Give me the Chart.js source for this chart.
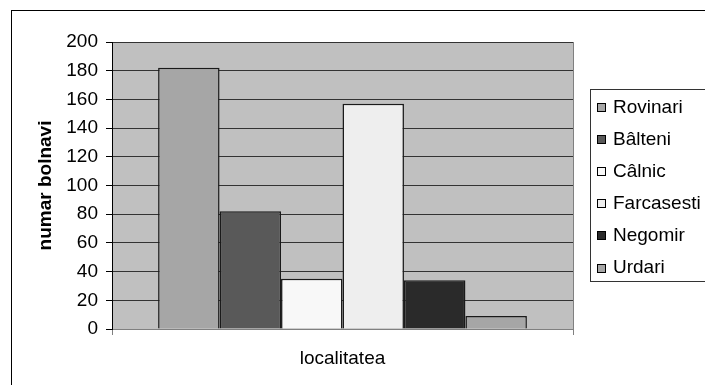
<!DOCTYPE html>
<html>
<head>
<meta charset="utf-8">
<title>numar bolnavi</title>
<script src="https://cdn.jsdelivr.net/npm/chart.js@4.4.1/dist/chart.umd.min.js"></script>
<style>
 html, body { margin: 0; padding: 0; background: #fff; overflow: hidden; }
 #wrap { position: absolute; left: 0; top: 0; width: 730px; height: 400px; }
</style>
</head>
<body>
<div id="wrap"><canvas id="myChart" width="730" height="400"></canvas></div>
<script>
// localitati si numar bolnavi
var categoryLabels = [''];
var seriesNames = ['Rovinari', 'Bâlteni', 'Câlnic', 'Farcasesti', 'Negomir', 'Urdari'];
var seriesValues = [182, 82, 35, 157, 34, 9];
var seriesColors = ['#a6a6a6', '#595959', '#f8f8f8', '#eeeeee', '#2a2a2a', '#a6a6a6'];
var yMin = 0, yMax = 200, yStep = 20;

var FONT = '"Liberation Sans", Arial, sans-serif';

var datasets = [];
for (var i = 0; i < seriesNames.length; i++) {
  datasets.push({
    label: seriesNames[i],
    data: [seriesValues[i]],
    backgroundColor: seriesColors[i],
    borderColor: '#1a1a1a',
    borderWidth: 1.5,
    barPercentage: 1,
    categoryPercentage: 0.8
  });
}

// fundal gri + chenar exterior + legenda
var excelLook = {
  id: 'excelLook',
  beforeDraw: function (chart) {
    var ctx = chart.ctx, a = chart.chartArea;
    ctx.save();
    ctx.fillStyle = '#c0c0c0';
    ctx.fillRect(a.left, a.top, a.right - a.left, a.bottom - a.top);
    ctx.restore();
  },
  afterDraw: function (chart) {
    var ctx = chart.ctx, a = chart.chartArea;
    ctx.save();
    // marginea din dreapta a zonei de desen
    ctx.strokeStyle = '#808080';
    ctx.lineWidth = 1;
    ctx.beginPath();
    ctx.moveTo(Math.round(a.right) + 0.5, a.top);
    ctx.lineTo(Math.round(a.right) + 0.5, a.bottom);
    ctx.stroke();

    // chenarul graficului
    ctx.strokeStyle = '#000';
    ctx.strokeRect(11.5, 10.5, 800, 500);

    // legenda
    var lx = 590.5, ly = 89.5, lh = 192;
    ctx.fillStyle = '#fff';
    ctx.fillRect(lx, ly, 200, lh);
    ctx.strokeStyle = '#333';
    ctx.strokeRect(lx, ly, 200, lh);
    ctx.font = '19px ' + FONT;
    ctx.textBaseline = 'middle';
    ctx.textAlign = 'left';
    var ds = chart.data.datasets;
    for (var k = 0; k < ds.length; k++) {
      var cy = 107.5 + k * 32.1;
      var sy = Math.round(cy - 4.5);
      ctx.fillStyle = ds[k].backgroundColor;
      ctx.fillRect(597, sy, 9, 9);
      ctx.strokeStyle = '#000';
      ctx.strokeRect(597.5, sy + 0.5, 8, 8);
      ctx.fillStyle = '#000';
      ctx.fillText(ds[k].label, 613, cy);
    }
    ctx.restore();
  }
};

var ctx = document.getElementById('myChart').getContext('2d');
window.chart = new Chart(ctx, {
  type: 'bar',
  data: { labels: categoryLabels, datasets: datasets },
  options: {
    responsive: false,
    animation: false,
    devicePixelRatio: 1,
    layout: { padding: { left: 0, top: 42, right: 157, bottom: 0 } },
    plugins: {
      legend: { display: false },
      tooltip: { enabled: false }
    },
    scales: {
      x: {
        grid: { offset: true, drawOnChartArea: false, drawTicks: true, tickLength: 6, tickColor: '#808080' },
        border: { color: '#808080', width: 1 },
        ticks: { display: false },
        title: {
          display: true, text: 'localitatea', color: '#000',
          font: { family: FONT, size: 19 },
          padding: { top: 0, bottom: 30 }
        },
        afterFit: function (scale) { scale.height = 71; }
      },
      y: {
        min: yMin, max: yMax,
        ticks: { stepSize: yStep, color: '#000', padding: 8, font: { family: FONT, size: 19 } },
        grid: { color: '#333', tickColor: '#000', tickLength: 6, lineWidth: 1 },
        border: { color: '#000', width: 1 },
        title: {
          display: true, text: 'numar bolnavi', color: '#000',
          font: { family: FONT, size: 19, weight: 'bold' },
          padding: { top: 34, bottom: 0 }
        },
        afterFit: function (scale) { scale.width = 112; }
      }
    }
  },
  plugins: [excelLook]
});
</script>
</body>
</html>
